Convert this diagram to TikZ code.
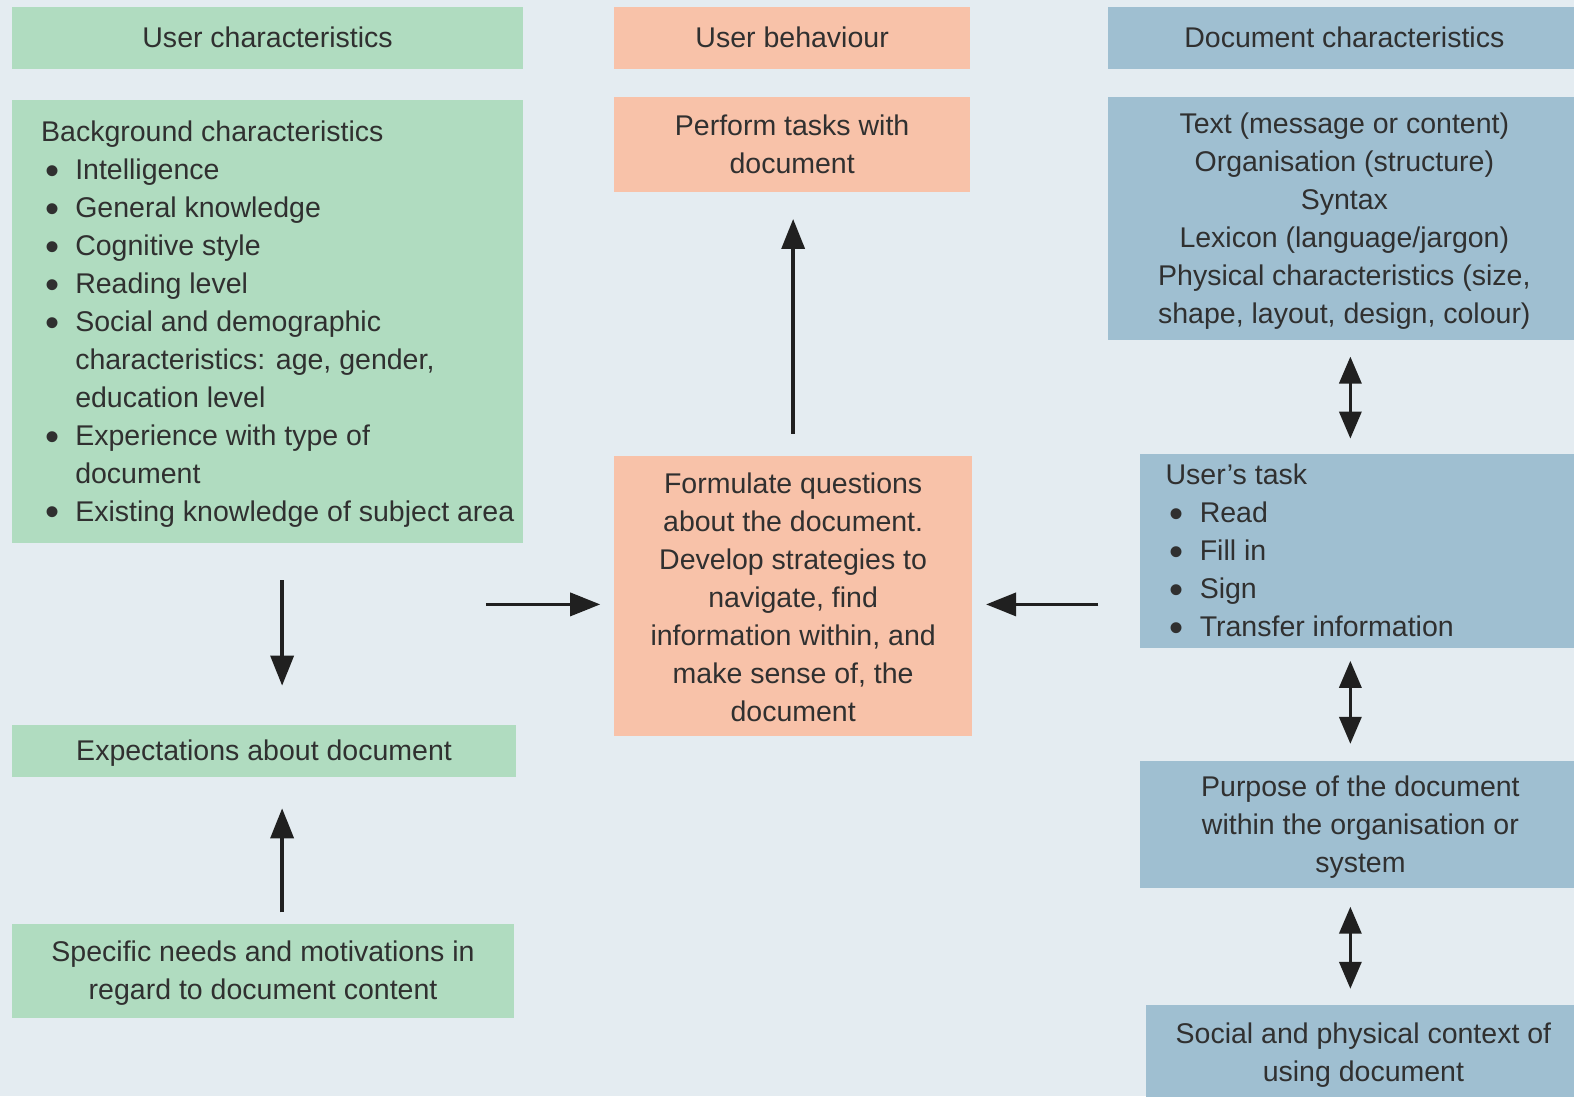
\documentclass[tikz,border=0pt]{standalone}
\usepackage{fontspec}
\setmainfont{Liberation Sans}
\usetikzlibrary{arrows.meta}
\definecolor{bgc}{HTML}{E4ECF1}
\definecolor{grn}{HTML}{B0DCC0}
\definecolor{sal}{HTML}{F8C2A9}
\definecolor{blu}{HTML}{9FBFD1}
\definecolor{txc}{HTML}{303030}
\definecolor{arc}{HTML}{202020}
\newcommand{\bul}{\hspace*{4pt}\makebox[30pt][l]{\raisebox{-4.5pt}{\fontsize{40}{40}\selectfont\textbullet}}}
\newcommand{\cont}{\hspace*{34pt}}
\begin{document}
\begin{tikzpicture}[x=1pt,y=-1pt,scale=1.00383,transform shape,
  every node/.style={font=\fontsize{28.4}{37.8}\selectfont, text=txc},
  box/.style={inner sep=0pt},
  gbox/.style={box, fill=grn},
  sbox/.style={box, fill=sal},
  bbox/.style={box, fill=blu},
  tx/.style={inner sep=0pt, align=center},
  listtext/.style={anchor=west, inner sep=0pt, align=left},
  arr/.style={line width=3.5pt, draw=arc, -{Triangle[length=30pt,width=23pt]}},
  darr/.style={line width=3.5pt, draw=arc, {Triangle[length=27pt,width=22pt]}-{Triangle[length=27pt,width=22pt]}}]
\useasboundingbox (0,0) rectangle (1568,1092);
\fill[bgc] (0,0) rectangle (1568,1092);

% headers
\node[gbox, minimum width=509pt, minimum height=62pt] (hUC) at (266.5,38) {};
\node[tx] (hUCt) at ([yshift=0.5pt]hUC.center) {User characteristics};
\node[sbox, minimum width=354pt, minimum height=62pt] (hUB) at (789,38) {};
\node[tx] (hUBt) at ([yshift=0.5pt]hUB.center) {User behaviour};
\node[bbox, minimum width=470pt, minimum height=62pt] (hDC) at (1339,38) {};
\node[tx] (hDCt) at ([yshift=0.5pt]hDC.center) {Document characteristics};

% left column
\node[gbox, minimum width=509pt, minimum height=441pt] (bg) at (266.5,320.5) {};
\node[listtext] (bgt) at ([xshift=29pt,yshift=-2.5pt]bg.west) {Background characteristics\\
\bul Intelligence\\
\bul General knowledge\\
\bul Cognitive style\\
\bul Reading level\\
\bul Social and demographic\\
\cont characteristics: age, gender,\\
\cont education level\\
\bul Experience with type of\\
\cont document\\
\bul Existing knowledge of subject area};
\node[gbox, minimum width=502pt, minimum height=52pt] (exp) at (263,748) {};
\node[tx] (expt) at ([yshift=-2pt]exp.center) {Expectations about document};
\node[gbox, minimum width=500pt, minimum height=94pt] (spec) at (262,967) {};
\node[tx] (spect) at ([yshift=-2pt]spec.center) {Specific needs and motivations in\\ regard to document content};

% middle column
\node[sbox, minimum width=354pt, minimum height=94pt] (perf) at (789,144) {};
\node[tx] (perft) at ([yshift=0pt]perf.center) {Perform tasks with\\ document};
\node[sbox, minimum width=356pt, minimum height=279pt] (form) at (790,593.5) {};
\node[tx] (formt) at ([yshift=-1.5pt]form.center) {Formulate questions\\ about the document.\\ Develop strategies to\\ navigate, find\\ information within, and\\ make sense of, the\\ document};

% right column
\node[bbox, minimum width=470pt, minimum height=242pt] (txt) at (1339,218) {};
\node[tx] (txtt) at ([yshift=-2.5pt]txt.center) {Text (message or content)\\ Organisation (structure)\\ Syntax\\ Lexicon (language/jargon)\\ Physical characteristics (size,\\ shape, layout, design, colour)};
\node[bbox, minimum width=438pt, minimum height=194pt] (tasks) at (1355,549) {};
\node[listtext] (taskst) at ([xshift=25pt,yshift=-1.5pt]tasks.west) {User's task\\
\bul Read\\
\bul Fill in\\
\bul Sign\\
\bul Transfer information};
\node[bbox, minimum width=438pt, minimum height=127pt] (purp) at (1355,821.5) {};
\node[tx] (purpt) at ([yshift=-2pt]purp.center) {Purpose of the document\\ within the organisation or\\ system};
\node[bbox, minimum width=432pt, minimum height=95pt] (soc) at (1358,1048.5) {};
\node[tx] (soct) at ([yshift=-2pt]soc.center) {Social and physical context of\\ using document};

% helper coordinates
\coordinate (colL) at (281,0);
\coordinate (colR) at (1345,0);
\coordinate (lin) at (484,602);

% arrows
\draw[arr, shorten <=37pt, shorten >=39pt] (bg.south -| colL) -- (exp.north -| colL);
\draw[arr, shorten <=11pt, shorten >=31pt] (spec.north -| colL) -- (exp.south -| colL);
\draw[arr, shorten >=14pt] (lin) -- (form.west |- lin);
\draw[arr, shorten <=42pt, shorten >=14pt] (tasks.west |- lin) -- (form.east |- lin);
\draw[arr, shorten <=22pt, shorten >=27pt] (form.north) -- (form.north |- perf.south);
\draw[darr, shorten <=16pt, shorten >=15pt] (txt.south -| colR) -- (tasks.north -| colR);
\draw[darr, shorten <=12pt, shorten >=17pt] (tasks.south -| colR) -- (purp.north -| colR);
\draw[darr, shorten <=18pt, shorten >=16pt] (purp.south -| colR) -- (soc.north -| colR);
\end{tikzpicture}
\end{document}
